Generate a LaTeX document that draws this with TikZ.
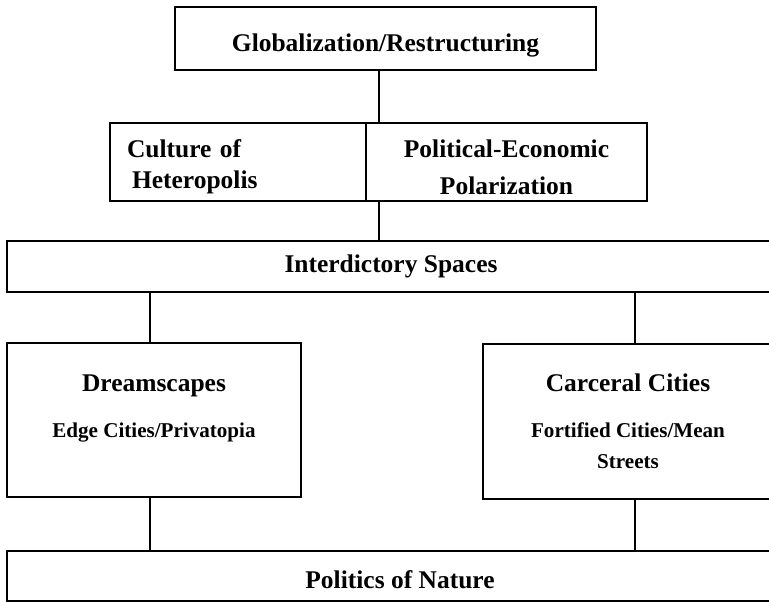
\documentclass[tikz,border=0pt]{standalone}
\usepackage{fontspec}
\setmainfont{Liberation Serif}
\usepackage{tikz}
\tikzset{
	box/.style={draw, line width=1.3pt, inner sep=0pt, align=center, font=\bfseries\fontsize{14.5}{18}\selectfont},
	link/.style={line width=1pt},
}
\newcommand{\subtext}{\fontsize{12}{15}\selectfont}

\begin{document}
\begin{tikzpicture}[x=0.02cm, y=-0.02cm]
		%%%%% START %%%%%
		\useasboundingbox (0,0) rectangle (769,602);
		\clip (0,0) rectangle (769,602);
		
		\coordinate (spine) at (379,0);
		\coordinate (left) at (150,0);
		\coordinate (right) at (635,0);
		
		\node[box, minimum width=8.42cm, minimum height=1.26cm, text height=17.5pt] (glob) at (385.5,38.5) {Globalization/Restructuring};
		
		\node[box, minimum width=5.12cm, minimum height=1.56cm, text width=4.44cm, align=left, text depth=15.5pt] (cult) at (238,162) {Culture of\\\hspace*{0.1cm}Heteropolis};
		\node[box, minimum width=5.62cm, minimum height=1.56cm, text height=37pt] (pol) at (506.5,162) {Political-Economic\\[3pt]Polarization};
		
		\node[box, minimum width=15.36cm, minimum height=1.02cm] (inter) at (391,266.5) {Interdictory Spaces};
		
		\node[box, minimum width=5.88cm, minimum height=3.08cm, text depth=0.55cm] (dream) at (154,420) {Dreamscapes\\[8pt]{\subtext Edge Cities/Privatopia}};
		\node[box, minimum width=5.8cm, minimum height=3.1cm] (carc) at (628,421.5) {Carceral Cities\\[8pt]{\subtext Fortified Cities/Mean}\\{\subtext Streets}};
		
		\node[box, minimum width=15.72cm, minimum height=1.0cm, text height=14.5pt] (nat) at (400,576) {Politics of Nature};
		
		\draw[link] (glob.south -| spine) -- (cult.north -| spine);
		\draw[link] (cult.south -| spine) -- (inter.north -| spine);
		\draw[link] (inter.south -| left) -- (dream.north -| left);
		\draw[link] (inter.south -| right) -- (carc.north -| right);
		\draw[link] (dream.south -| left) -- (nat.north -| left);
		\draw[link] (carc.south -| right) -- (nat.north -| right);
		%%%%% END %%%%%
\end{tikzpicture}
\end{document}
